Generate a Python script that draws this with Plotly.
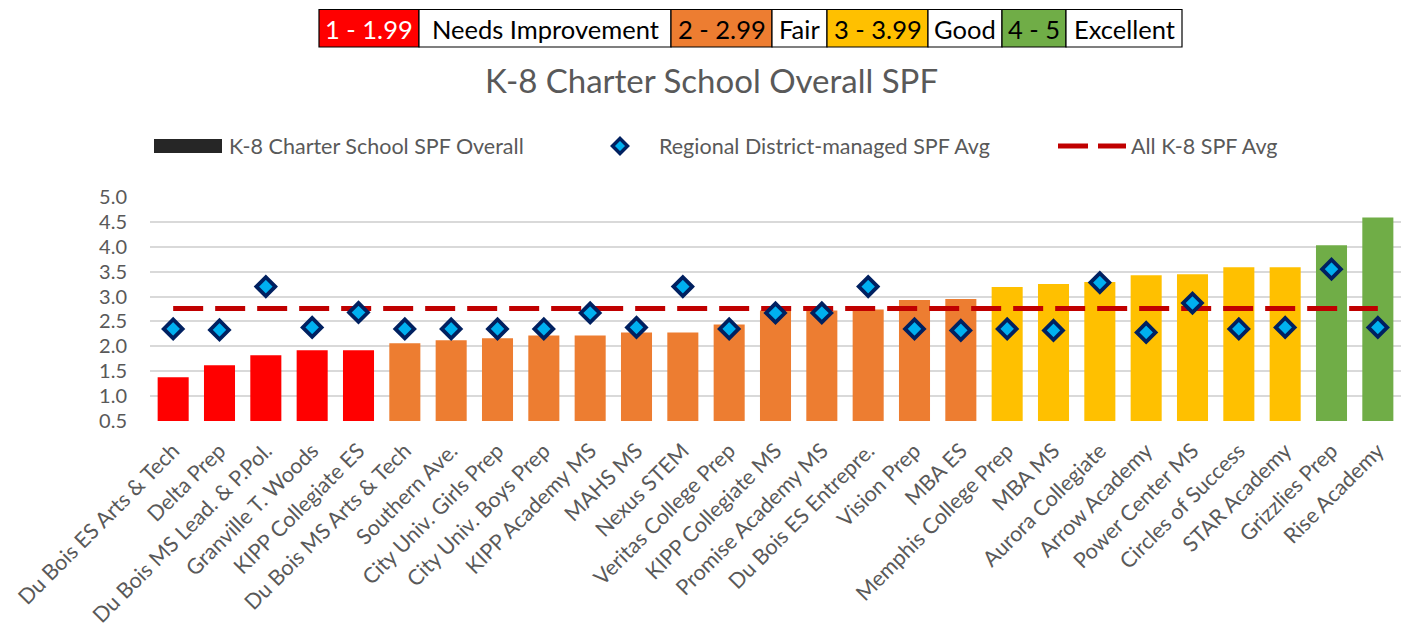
import plotly.graph_objects as go

schools = ["Du Bois ES Arts & Tech", "Delta Prep", "Du Bois MS Lead. & P.Pol.", "Granville T. Woods",
           "KIPP Collegiate ES", "Du Bois MS Arts & Tech", "Southern Ave.", "City Univ. Girls Prep",
           "City Univ. Boys Prep", "KIPP Academy MS", "MAHS MS", "Nexus STEM", "Veritas College Prep",
           "KIPP Collegiate MS", "Promise Academy MS", "Du Bois ES Entrepre.", "Vision Prep", "MBA ES",
           "Memphis College Prep", "MBA MS", "Aurora Collegiate", "Arrow Academy", "Power Center MS",
           "Circles of Success", "STAR Academy", "Grizzlies Prep", "Rise Academy"]
spf_overall = [1.38, 1.62, 1.82, 1.92, 1.92, 2.06, 2.12, 2.16, 2.22, 2.22, 2.28, 2.28, 2.44, 2.72,
               2.72, 2.74, 2.93, 2.95, 3.19, 3.25, 3.29, 3.43, 3.45, 3.59, 3.59, 4.03, 4.59]
regional_avg = [2.35, 2.33, 3.20, 2.38, 2.68, 2.35, 2.35, 2.35, 2.35, 2.67, 2.38, 3.20, 2.35, 2.67,
                2.67, 3.20, 2.35, 2.32, 2.35, 2.32, 3.28, 2.28, 2.87, 2.35, 2.38, 3.55, 2.38]
all_k8_avg = 2.76

band_labels = ["1 - 1.99", "Needs Improvement", "2 - 2.99", "Fair", "3 - 3.99", "Good", "4 - 5", "Excellent"]
legend_names = ["K-8 Charter School SPF Overall", "Regional District-managed SPF Avg", "All K-8 SPF Avg"]
title_text = "K-8 Charter School Overall SPF"

RED, ORANGE, YELLOW, GREEN = "#FF0000", "#ED7D31", "#FFC000", "#70AD47"


def band_color(v):
    if v < 2:
        return RED
    if v < 3:
        return ORANGE
    if v < 4:
        return YELLOW
    return GREEN


FONT = "Lato"
GREY = "#595959"
W, H = 1405, 624
L, R, T, B = 150, 4, 197, 203
PW, PH = W - L - R, H - T - B


def X(px):
    return (px - L) / PW


def Y(py):
    return (H - B - py) / PH


fig = go.Figure()
fig.add_trace(go.Bar(x=schools, y=spf_overall, marker=dict(color=[band_color(v) for v in spf_overall], line_width=0),
                     name=legend_names[0], showlegend=False))
fig.add_trace(go.Scatter(x=schools, y=[all_k8_avg] * len(schools), mode="lines",
                         line=dict(color="#C00000", width=5, dash="30px,12px"),
                         name=legend_names[2], showlegend=False))
fig.add_trace(go.Scatter(x=schools, y=regional_avg, mode="markers",
                         marker=dict(symbol="diamond", size=14.5, color="#00B0F0",
                                     line=dict(color="#002060", width=3.8)),
                         name=legend_names[1], showlegend=False))

shapes = []
annotations = []

# top band box
cells = [(319, 419, RED, "white"), (419, 671, "white", "black"), (671, 772, ORANGE, "black"),
         (772, 827, "white", "black"), (827, 928, YELLOW, "black"), (928, 1002, "white", "black"),
         (1002, 1066, GREEN, "black"), (1066, 1182, "white", "black")]
for (x0, x1, fill, tc), lab in zip(cells, band_labels):
    shapes.append(dict(type="rect", xref="paper", yref="paper", x0=X(x0), x1=X(x1), y0=Y(47), y1=Y(9.5),
                       fillcolor=fill, line=dict(color="black", width=1.2), layer="above"))
    annotations.append(dict(xref="paper", yref="paper", x=X((x0 + x1) / 2), y=Y(29), text=lab, showarrow=False,
                            xanchor="center", yanchor="middle", font=dict(family=FONT, size=25.5, color=tc)))

# title
annotations.append(dict(xref="paper", yref="paper", x=X(711), y=Y(80), text=title_text, showarrow=False,
                        xanchor="center", yanchor="middle", font=dict(family=FONT, size=33, color=GREY)))

# manual legend
ly = 146
LF = 21.5
shapes.append(dict(type="rect", xref="paper", yref="paper", x0=X(154), x1=X(222), y0=Y(153), y1=Y(139),
                   fillcolor="#262626", line_width=0))
annotations.append(dict(xref="paper", yref="paper", x=X(227), y=Y(ly), text=legend_names[0], showarrow=False,
                        xanchor="left", yanchor="middle", font=dict(family=FONT, size=LF, color=GREY)))
cx, hw = 620, 7.5
path = "M {a},{b} L {c},{d} L {a},{e} L {f},{d} Z".format(a=X(cx), b=Y(ly - hw), c=X(cx + hw), d=Y(ly),
                                                          e=Y(ly + hw), f=X(cx - hw))
shapes.append(dict(type="path", xref="paper", yref="paper", path=path, fillcolor="#00B0F0",
                   line=dict(color="#002060", width=3.5)))
annotations.append(dict(xref="paper", yref="paper", x=X(657), y=Y(ly), text=legend_names[1], showarrow=False,
                        xanchor="left", yanchor="middle", font=dict(family=FONT, size=LF, color=GREY)))
for d0, d1 in [(1058, 1088), (1098, 1126)]:
    shapes.append(dict(type="line", xref="paper", yref="paper", x0=X(d0), x1=X(d1), y0=Y(ly), y1=Y(ly),
                       line=dict(color="#C00000", width=5)))
annotations.append(dict(xref="paper", yref="paper", x=X(1129), y=Y(ly), text=legend_names[2], showarrow=False,
                        xanchor="left", yanchor="middle", font=dict(family=FONT, size=LF, color=GREY)))

fig.update_layout(
    width=W, height=H,
    margin=dict(l=L, r=R, t=T, b=B, pad=0, autoexpand=False),
    plot_bgcolor="white", paper_bgcolor="white",
    bargap=0.33,
    showlegend=False,
    shapes=shapes,
    annotations=annotations,
    font=dict(family=FONT, color=GREY),
)
fig.update_xaxes(range=[-0.5, len(schools) - 0.5], tickangle=-45,
                 tickfont=dict(family=FONT, size=21.5, color=GREY), showgrid=False,
                 showline=False, zeroline=False, ticks="", ticklabelstandoff=12, automargin=False)
fig.update_yaxes(range=[0.5, 5.0], dtick=0.5, tick0=0.5, tickformat=".1f",
                 tickfont=dict(family=FONT, size=20, color=GREY), showgrid=True, gridcolor="#D9D9D9",
                 gridwidth=1.5, zeroline=False, showline=False, ticks="", ticklabelstandoff=22,
                 automargin=False)

fig.write_html("out.html", config={"displayModeBar": False},
               post_script="document.body.style.margin='0px'; document.body.style.overflow='hidden';")
